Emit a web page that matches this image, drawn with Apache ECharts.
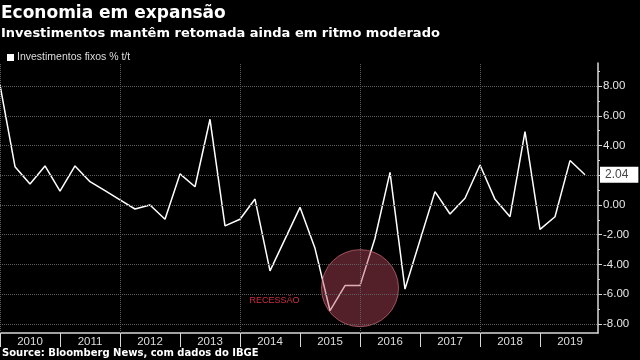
<!DOCTYPE html>
<html>
<head>
<meta charset="utf-8">
<script src="https://cdn.jsdelivr.net/npm/echarts@6/dist/echarts.min.js"></script>
<style>
html,body{margin:0;padding:0;background:#000;}
#chart{width:640px;height:360px;}
</style>
</head>
<body>
<div id="chart"></div>
<script>
// ---- data ----
const quarters = [];
const years = ['2010','2011','2012','2013','2014','2015','2016','2017','2018','2019'];
years.forEach(y => ['T1','T2','T3','T4'].forEach(q => quarters.push(y + ' ' + q)));
const investimentos = [8.08, 2.58, 1.41, 2.63, 0.94, 2.63, 1.57, 0.96, 0.34, -0.27,
  0.00, -0.96, 2.09, 1.23, 5.77, -1.41, -0.96, 0.40, -4.44, -2.30,
  -0.16, -2.92, -7.12, -5.43, -5.43, -2.24, 2.20, -5.66, -2.38, 0.90,
  -0.61, 0.45, 2.69, 0.38, -0.79, 4.94, -1.64, -0.79, 2.99, 2.04];
const yTicks = [-8, -6, -4, -2, 0, 2, 4, 6, 8];
const yMinorTicks = [-7, -5, -3, -1, 1, 3, 5, 7, 9];
const yearSeparators = [0, 4, 8, 12, 16, 20, 24, 28, 32, 36];
const yearCenters = [2, 6, 10, 14, 18, 22, 26, 30, 34, 38];
const vGrid = [0, 8, 16, 24, 32];
const recessionCenter = [24, -5.6];
const recessionLabel = [18.3, -6.45];
const lastValue = investimentos[investimentos.length - 1];

const seriesName = 'Investimentos fixos % t/t';
const chart = echarts.init(document.getElementById('chart'), null, {renderer: 'canvas'});
const gridColor = '#5e5e5e';
const axisColor = '#d8d8d8';
const smallFont = "'Liberation Sans', Arial, sans-serif";
const boldFont = "'DejaVu Sans', Verdana, sans-serif";

chart.setOption({
  backgroundColor: '#000',
  animation: false,
  title: [
    {
      text: 'Economia em expansão',
      subtext: 'Investimentos mantêm retomada ainda em ritmo moderado',
      left: 1, top: 5, itemGap: 5, padding: 0,
      textStyle: {color: '#fff', fontSize: 17, fontWeight: 'bold', fontFamily: boldFont},
      subtextStyle: {color: '#fff', fontSize: 13, fontWeight: 'bold', fontFamily: boldFont}
    },
    {
      text: 'Source: Bloomberg News, com dados do IBGE',
      left: 2, top: 348, padding: 0,
      textStyle: {color: '#fff', fontSize: 10, fontWeight: 'bold', fontFamily: boldFont}
    }
  ],
  legend: {
    data: [seriesName],
    left: 2, top: 47,
    icon: 'rect', itemWidth: 7, itemHeight: 7, itemGap: 4,
    textStyle: {color: '#ddd', fontSize: 10.5, fontFamily: smallFont, padding: [0, 0, 0, -2]}
  },
  grid: {left: 0, right: 42, top: 63, bottom: 27, containLabel: false},
  xAxis: [{
    type: 'value', min: 0, max: 598 / 15,
    axisLine: {show: true, onZero: false, lineStyle: {color: axisColor, width: 1.5}},
    axisTick: {show: true, customValues: yearSeparators, length: 14, lineStyle: {color: axisColor}},
    axisLabel: {
      show: true, customValues: yearCenters, margin: 3,
      color: '#ddd', fontSize: 11.5, fontFamily: smallFont,
      formatter: v => years[yearCenters.indexOf(Math.round(v))] || ''
    },
    splitLine: {show: false}
  }],
  yAxis: [{
    type: 'value', position: 'right', min: -8.62, max: 9.56,
    axisLine: {show: true, onZero: false, lineStyle: {color: axisColor, width: 1.5}},
    axisTick: {show: true, customValues: yTicks, length: 4, lineStyle: {color: axisColor}},
    axisLabel: {
      show: true, customValues: yTicks, margin: 5,
      color: '#e6e6e6', fontSize: 11.5, fontFamily: smallFont,
      formatter: v => v.toFixed(2)
    },
    splitLine: {show: false}
  }, {
    type: 'value', position: 'right', min: -8.62, max: 9.56,
    axisLine: {show: false, onZero: false},
    axisTick: {show: true, customValues: yMinorTicks, length: 2, lineStyle: {color: axisColor}},
    axisLabel: {show: false},
    splitLine: {show: false}
  }],
  series: [
    {
      name: 'grid', type: 'line', data: [], z: 1, silent: true,
      markLine: {
        silent: true, symbol: 'none', animation: false,
        label: {show: false},
        lineStyle: {color: gridColor, type: 'dotted', width: 1},
        data: yTicks.map(v => ({yAxis: v})).concat(vGrid.map(v => ({xAxis: v})))
      }
    },
    {
      name: seriesName, type: 'line', z: 3,
      data: investimentos.map((v, i) => [i, v]),
      showSymbol: false, symbol: 'none',
      lineStyle: {color: '#fff', width: 1.5},
      itemStyle: {color: '#fff'},
      markLine: {
        silent: true, symbol: 'none',
        lineStyle: {color: 'rgba(0,0,0,0)', width: 0},
        data: [{yAxis: lastValue}],
        label: {
          show: true, position: 'end', distance: 2,
          formatter: () => lastValue.toFixed(2),
          backgroundColor: '#fff', color: '#444',
          fontSize: 12, fontFamily: smallFont,
          padding: [2, 10, 2, 5]
        }
      }
    },
    {
      name: 'recessao', type: 'scatter', z: 4, silent: true,
      data: [recessionCenter],
      symbol: 'circle', symbolSize: 77,
      itemStyle: {color: 'rgba(190,70,90,0.55)', borderColor: 'rgba(225,120,135,0.8)', borderWidth: 1}
    },
    {
      name: 'recessaoLabel', type: 'scatter', z: 4, silent: true,
      data: [{value: recessionLabel, name: 'RECESSÃO'}],
      symbolSize: 1, itemStyle: {color: 'rgba(0,0,0,0)'},
      label: {show: true, position: 'inside', formatter: '{b}', color: '#ff3a55', fontSize: 9, fontFamily: smallFont}
    }
  ]
});
</script>
</body>
</html>
